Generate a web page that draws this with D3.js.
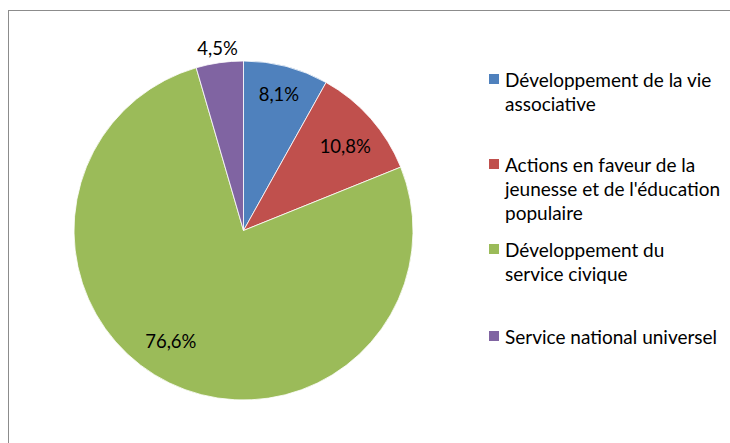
<!DOCTYPE html>
<html>
<head>
<meta charset="utf-8">
<script src="https://cdn.jsdelivr.net/npm/d3@7"></script>
<style>
  html, body { margin: 0; padding: 0; background: #fff; }
  svg { display: block; }
  text { font-family: Lato, "Open Sans", sans-serif; fill: #000; }
</style>
</head>
<body>
<svg id="chart" width="730" height="443"></svg>
<script>
// Budget split by action
const categories = [
  "Développement de la vie associative",
  "Actions en faveur de la jeunesse et de l'éducation populaire",
  "Développement du service civique",
  "Service national universel"
];
const legendLines = [
  ["Développement de la vie", "associative"],
  ["Actions en faveur de la", "jeunesse et de l'éducation", "populaire"],
  ["Développement du", "service civique"],
  ["Service national universel"]
];
const shares = [8.1, 10.8, 76.6, 4.5];
const valueLabels = ["8,1%", "10,8%", "76,6%", "4,5%"];
const colors = ["#4F81BD", "#C0504D", "#9BBB59", "#8064A2"];

const svg = d3.select("#chart");

// chart frame (runs off the right and bottom edges)
svg.append("rect")
  .attr("x", 8.5).attr("y", 10.5)
  .attr("width", 760).attr("height", 460)
  .attr("fill", "none")
  .attr("stroke", "#8c8c8c")
  .attr("stroke-width", 1);

const cx = 243.5, cy = 230.5, r = 169.5;

const pie = d3.pie().sort(null).value(d => d);
const arcs = pie(shares);
const arc = d3.arc().innerRadius(0).outerRadius(r);

const g = svg.append("g").attr("transform", `translate(${cx},${cy})`);

g.selectAll("path.slice")
  .data(arcs)
  .join("path")
  .attr("class", "slice")
  .attr("d", arc)
  .attr("fill", (d, i) => colors[i])
  .attr("stroke", "#fff")
  .attr("stroke-width", 0.8);

// labels: inside slices for large ones, just outside for the thin one
const labelRadius = i => [0.83, 0.78, 0.78, 1.085][i] * r;
const labelAngleShift = [0, 0.03, 0.13, 0];

g.selectAll("text.val")
  .data(arcs)
  .join("text")
  .attr("class", "val")
  .attr("transform", (d, i) => {
    const a = (d.startAngle + d.endAngle) / 2 + labelAngleShift[i];
    const rr = labelRadius(i);
    return `translate(${Math.sin(a) * rr},${-Math.cos(a) * rr})`;
  })
  .attr("text-anchor", "middle")
  .attr("dominant-baseline", "central")
  .style("font-size", "18.5px")
  .text((d, i) => valueLabels[i]);

// legend
const legendTop = [79, 164, 249, 336];
const lineH = 24;
const lg = svg.append("g");
categories.forEach((c, i) => {
  const item = lg.append("g").attr("transform", `translate(489,${legendTop[i]})`);
  item.append("rect")
    .attr("x", 0).attr("y", -5)
    .attr("width", 10).attr("height", 10)
    .attr("fill", colors[i]);
  const t = item.append("text")
    .attr("x", 16)
    .attr("y", 0)
    .style("font-size", "19px");
  legendLines[i].forEach((ln, j) => {
    t.append("tspan")
      .attr("x", 16)
      .attr("y", j * lineH)
      .attr("dominant-baseline", "central")
      .text(ln);
  });
});
</script>
</body>
</html>
